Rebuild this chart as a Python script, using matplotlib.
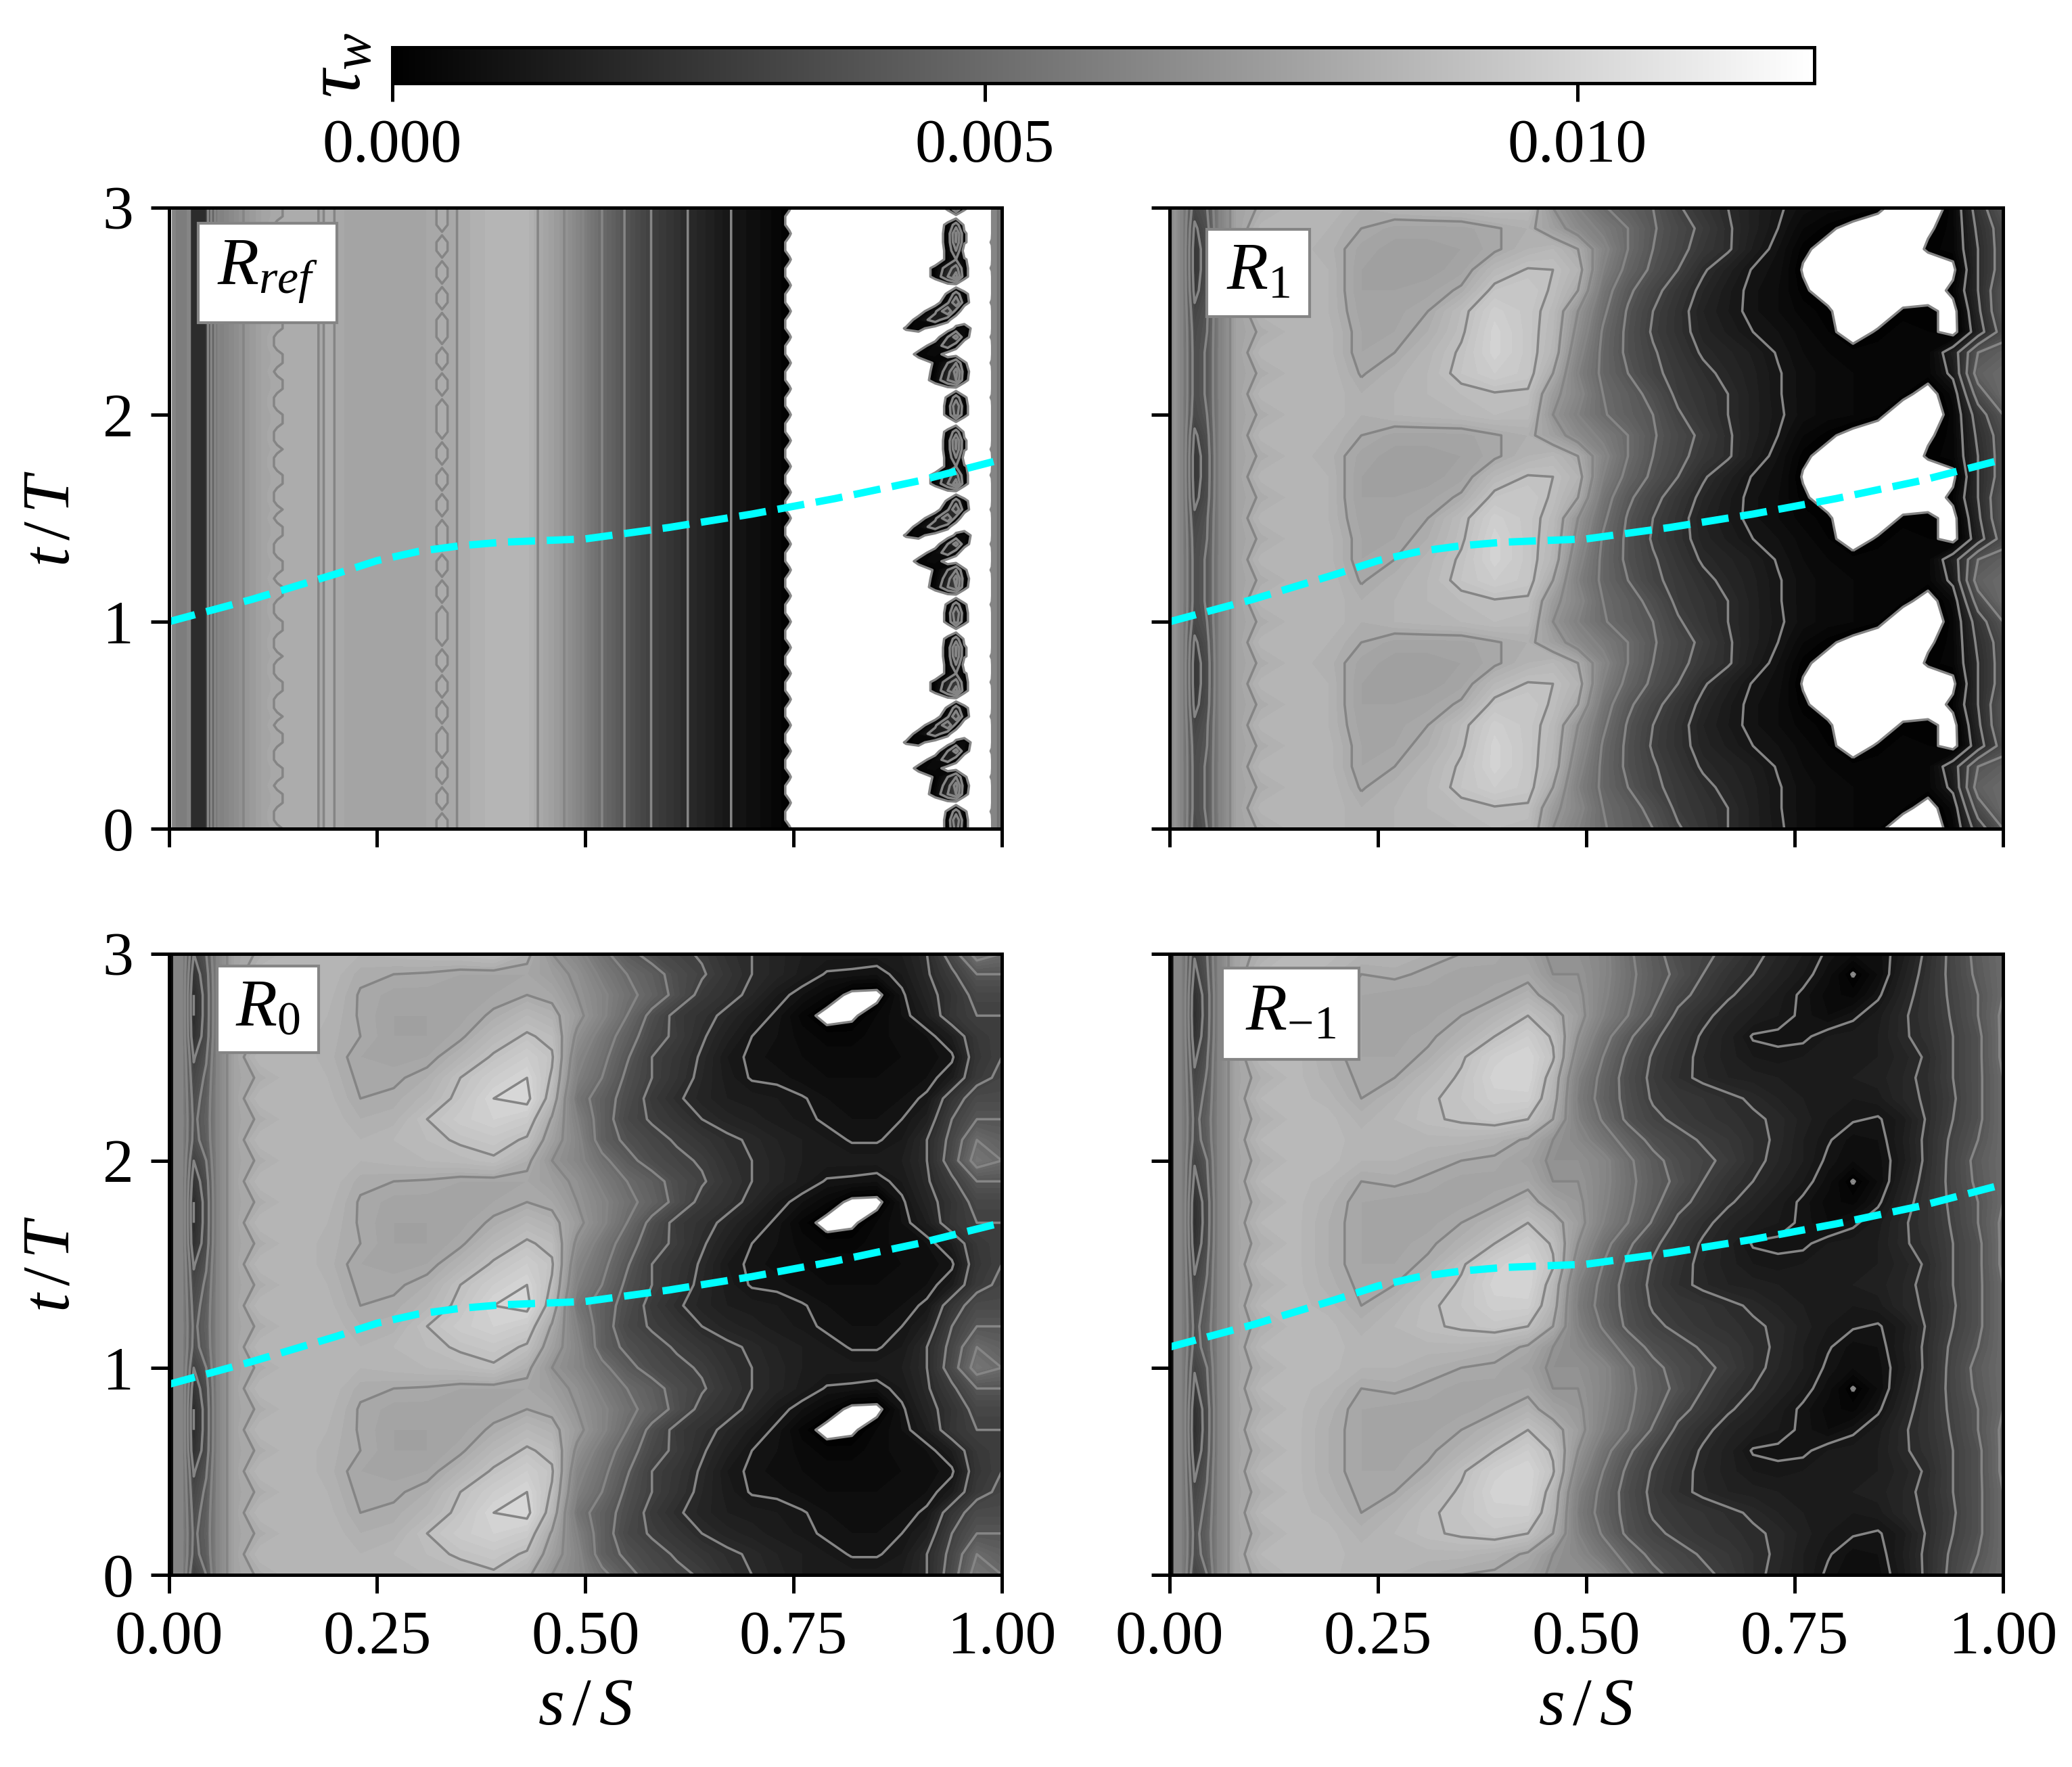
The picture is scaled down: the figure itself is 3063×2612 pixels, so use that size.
import numpy as np
import matplotlib
matplotlib.use("Agg")
import matplotlib.pyplot as plt
from matplotlib.cm import ScalarMappable
from matplotlib.colors import Normalize
from matplotlib.patches import Rectangle

plt.rcParams['font.family'] = ['Liberation Serif', 'DejaVu Serif']
plt.rcParams['mathtext.fontset'] = 'custom'
plt.rcParams['mathtext.rm'] = 'Liberation Serif'
plt.rcParams['mathtext.it'] = 'Liberation Serif:italic'
plt.rcParams['mathtext.bf'] = 'Liberation Serif:bold'
plt.rcParams['axes.linewidth'] = 1.2

# wall shear stress, in units of 1e-3, one forcing period
# negative = no fill (white), same as the separated zones in the reference
s_grid = [0, .006, .015, .03, .045, .06, .08, .11, .15, .19, .23, .27, .31, .35, .39, .43, .46,
          .49, .52, .55, .58, .61, .64, .67, .70, .73, .76, .79, .82, .85, .88, .91, .94, .97, 1.0]
t_grid = [0, .1, .2, .3, .4, .5, .6, .7, .8, .9]

tau_r1 = [
    [5.5, 7, 6, 3.4, 4, 6, 7.6, 8.1, 8.5, 8.6, 8.2, 8.4, 8.5, 8.6, 8.8, 8.7, 7.0,
     6, 5.1, 4.5, 4, 3.1, 2.5, 2, 1.5, 1.1, .7, .5, .4, .2, -.5, -.5, .3, 2.5, 4],
    [5.5, 7, 6, 3.6, 4.1, 6, 7.6, 8.5, 8.5, 8.6, 8.2, 8.4, 8.6, 8.8, 8.95, 8.9, 7.3,
     6.3, 5, 4.4, 3.7, 2.8, 2.4, 2, 1.5, 1.05, .7, .5, .4, .3, .2, -.3, .5, 3.5, 5],
    [5.5, 7, 6, 3.6, 4.1, 6, 7.6, 8.1, 8.5, 8.6, 7.95, 8.3, 8.6, 9.2, 9.6, 9.3, 8,
     6, 4.8, 4, 3.2, 2.7, 2.2, 1.8, 1.45, 1.05, .7, .5, .4, .3, .3, .3, 1.2, 4.5, 5],
    [5.5, 7, 6, 3.6, 4.1, 6, 7.6, 8.5, 8.5, 8.5, 7.8, 8, 8.5, 9.1, 9.9, 9.3, 8.5,
     6.3, 4.8, 3.8, 3.1, 2.5, 1.9, 1.65, 1.35, .95, .6, .4, .3, .3, .3, .3, 1.5, 4, 4.5],
    [5.5, 7, 6, 3.5, 4, 6, 7.6, 8.1, 8.5, 8.5, 7.8, 7.8, 8.2, 8.9, 9.9, 9.3, 8.6,
     6.7, 4.9, 3.8, 2.9, 2.3, 1.7, 1.35, 1, .8, .5, .2, -.4, .1, .3, .2, -.3, 1.5, 3.5],
    [5.5, 7, 6, 3.2, 3.9, 6, 7.6, 8.5, 8.5, 8.4, 7.7, 7.7, 8, 8.8, 9.7, 9.3, 8.7,
     7, 5.2, 3.9, 3, 2.3, 1.6, 1.2, .85, .6, .3, .1, -.5, -.5, .1, .2, -.3, 1.8, 4],
    [5.5, 7, 6, 2.7, 3.6, 6, 7.6, 8.1, 8.5, 8.4, 7.6, 7.6, 7.7, 8.1, 9.2, 9.4, 8.9,
     8, 5.5, 4.2, 3.3, 2.5, 1.8, 1.25, .85, .6, .1, -.3, -.5, -.5, -.5, -.5, .2, 2, 4],
    [5.5, 7, 6, 2.5, 3.5, 6, 7.6, 8.5, 8.5, 8.4, 7.6, 7.5, 7.5, 7.7, 8.6, 9.05, 9,
     8.4, 6, 4.7, 3.8, 3, 2.1, 1.5, .95, .7, -.05, -.5, -.5, -.5, -.5, -.5, -.2, 2, 3.5],
    [5.5, 7, 6, 2.5, 3.5, 6, 7.6, 8.1, 8.5, 8.3, 7.7, 7.5, 7.5, 7.6, 7.9, 8.4, 8.6,
     8, 6.3, 5, 4, 3.3, 2.6, 2.1, 1.35, .8, .1, -.2, -.5, -.5, -.5, .1, .3, 2, 3.5],
    [5.5, 7, 6, 2.8, 3.7, 6, 7.6, 8.5, 8.5, 8.4, 8, 7.7, 7.7, 7.7, 7.95, 8.2, 7.5,
     6.5, 5.8, 5, 4.1, 3.4, 2.8, 2.1, 1.5, 1, .4, .1, -.2, -.5, -.5, -.1, .3, 2.2, 3.5],
]

tau_r0 = [
    [.3, .6, 6.2, 3, 4, 6.3, 7.7, 8.1, 8.6, 8.6, 8.4, 8.5, 8.6, 8.7, 8.9, 8.2, 7.0,
     6.3, 5.3, 4.3, 3.6, 3.2, 2.9, 2.3, 2, 1.7, 1.4, 1.3, 1.3, 1.3, 1.4, 2, 3.5, 5.5, 5],
    [.3, .6, 6.2, 3.7, 4.4, 6.3, 7.7, 8.6, 8.6, 8.6, 8.4, 8.6, 8.8, 9.1, 9.3, 8.9, 7.5,
     6.3, 4.5, 3.8, 3.3, 2.9, 2.5, 2.15, 1.9, 1.6, 1.4, 1.2, .95, .95, 1.2, 2, 3.3, 5, 4.5],
    [.3, .6, 6.2, 3.8, 4.5, 6.3, 7.7, 8.1, 8.6, 8.6, 8.2, 8.3, 9, 9.5, 9.8, 9.5, 7.9,
     6, 4.5, 3.4, 2.9, 2.5, 2, 1.7, 1.5, 1.3, 1.15, .9, .8, .8, 1, 1.5, 3, 4, 4],
    [.3, .6, 6.2, 3.6, 4.4, 6.3, 7.7, 8.6, 8.6, 8.5, 8, 8.1, 8.5, 9.2, 10, 10.2, 8.6,
     5.5, 4.5, 3.6, 2.7, 2.1, 1.7, 1.4, 1.3, 1.2, 1.05, .8, .7, .7, .8, 1.1, 2.5, 3.5, 3.5],
    [.3, .6, 6.2, 3.3, 4.2, 6.3, 7.7, 8.1, 8.6, 8.4, 7.9, 7.9, 8.2, 9, 9.6, 10, 8.9,
     6, 5, 3.8, 3, 2.4, 1.8, 1.3, .95, .9, .7, .6, .6, .6, .7, .8, 1.3, 2.7, 3.2],
    [.3, .6, 6.2, 2.9, 3.9, 6.3, 7.7, 8.6, 8.6, 8.3, 7.8, 7.7, 7.8, 8.4, 9.1, 9.6, 9.1,
     6.3, 5.3, 4.1, 3, 2.5, 1.9, 1.2, .9, .7, .6, .5, .5, .5, .6, .7, .9, 2.5, 3],
    [.3, .6, 6.2, 2.2, 3.5, 6.3, 7.7, 8.1, 8.6, 8.3, 8, 7.6, 7.6, 7.9, 8.6, 9.1, 8.8,
     6.8, 5.6, 4.5, 3.4, 2.8, 2.1, 1.5, 1, .8, .5, .3, .3, .5, .7, .8, 1.4, 2.6, 3],
    [.3, .6, 6.2, 2, 3.4, 6.3, 7.7, 8.6, 8.6, 8.4, 7.95, 7.6, 7.6, 7.7, 8.1, 8.6, 8.3,
     7.3, 6.2, 5, 3.7, 2.7, 2.3, 1.8, 1.3, .9, .3, -.25, -.12, .4, .8, 1.4, 2.5, 3, 3],
    [.3, .6, 6.2, 2, 3.4, 6.3, 7.7, 8.1, 8.6, 8.5, 7.95, 7.7, 7.7, 7.7, 7.8, 8, 7.8,
     7, 6.2, 5.3, 4.6, 3.7, 2.7, 2.3, 1.8, 1.2, .8, .4, -.2, -.25, .9, 1.7, 2.4, 3.3, 3.3],
    [.3, .6, 6.2, 2.4, 3.6, 6.3, 7.7, 8.6, 8.6, 8.6, 8.1, 8, 7.95, 7.8, 7.8, 7.8, 7.4,
     6.8, 5.8, 5, 4.4, 3.6, 3.1, 2.5, 2, 1.7, 1.3, .95, .9, .8, 1.2, 1.9, 2.8, 4, 4],
]

tau_rm1 = [
    [.3, 1, 6, 3.1, 4, 6.2, 7.7, 8.2, 8.7, 8.7, 8.4, 8.4, 8.2, 8, 7.9, 7.5, 6.8,
     6.8, 6.3, 5.2, 4.3, 3.6, 3.2, 2.8, 2.2, 1.8, 1.4, .9, .6, .7, 1.3, 2.2, 3.3, 4.3, 5],
    [.3, 1, 6, 3.6, 4.4, 6.2, 7.7, 8.6, 8.7, 8.7, 8.5, 8.6, 8.5, 8.5, 8.3, 7.9, 7,
     6.4, 5.5, 4.6, 3.7, 3.3, 2.9, 2.6, 2.2, 1.9, 1.4, 1.05, .7, .8, 1.4, 2.2, 3.2, 4, 5],
    [.3, 1, 6, 3.7, 4.5, 6.2, 7.7, 8.2, 8.7, 8.7, 8.3, 8.6, 8.9, 9.1, 9.3, 9, 8,
     6, 4.9, 3.8, 3.2, 2.8, 2.5, 2.3, 2.1, 1.9, 1.5, 1.2, 1.05, .95, 1.3, 2.1, 3, 3.8, 5],
    [.3, 1, 6, 3.5, 4.3, 6.2, 7.7, 8.6, 8.7, 8.5, 8, 8.4, 8.9, 9.2, 9.7, 9.7, 8.4,
     5.8, 4.6, 3.7, 2.9, 2.6, 2.4, 2.15, 1.9, 1.6, 1.4, 1.3, 1.2, 1.3, 1.8, 2.1, 2.9, 3.8, 5],
    [.3, 1, 6, 3.2, 4.1, 6.2, 7.7, 8.2, 8.7, 8.3, 7.9, 8, 8.6, 9.1, 9.9, 10, 8.6,
     6, 4.7, 3.6, 2.8, 2.2, 1.85, 1.6, 1.5, 1.4, 1.3, 1.3, 1.4, 1.5, 1.8, 2.2, 3, 3.8, 5],
    [.3, 1, 6, 2.8, 3.9, 6.2, 7.7, 8.6, 8.7, 8.2, 7.8, 7.8, 8.1, 8.9, 9.7, 10, 9.1,
     6.5, 5, 3.8, 2.9, 2.3, 1.8, 1.5, 1.2, 1.1, 1.2, 1.3, 1.3, 1.4, 1.7, 2.1, 3, 3.8, 5.2],
    [.3, 1, 6, 2.3, 3.6, 6.2, 7.7, 8.2, 8.7, 8.2, 7.8, 7.7, 7.9, 8.3, 9, 9.6, 8.9,
     7, 5.4, 4.2, 3.2, 2.5, 1.9, 1.5, .95, .9, .9, 1.2, 1.3, 1.4, 1.9, 2.3, 3, 3.8, 5.2],
    [.3, 1, 6, 2.1, 3.5, 6.2, 7.7, 8.6, 8.7, 8.2, 7.8, 7.7, 7.7, 8, 8.4, 9, 8.4,
     7.4, 6, 5, 3.9, 2.8, 2.2, 1.7, 1.4, 1.2, .9, .6, .9, 1.3, 1.9, 2.4, 3.1, 4, 5.2],
    [.3, 1, 6, 2.2, 3.5, 6.2, 7.7, 8.2, 8.7, 8.3, 7.8, 7.7, 7.7, 7.7, 7.9, 8.3, 7.6,
     7.2, 6.2, 5.2, 4.3, 3.3, 2.7, 2.1, 1.7, 1.3, .9, .5, .3, .9, 1.7, 2.4, 3.2, 4, 5],
    [.3, 1, 6, 2.7, 3.8, 6.2, 7.7, 8.6, 8.7, 8.5, 8, 8.1, 7.9, 7.7, 7.7, 7.8, 7,
     7, 6.3, 5.3, 4.4, 3.8, 3, 2.4, 2, 1.6, 1.2, .7, -.05, .6, 1.5, 2.3, 3.3, 4.2, 5],
]

# R_ref barely changes with t: one profile, then the columns that do change
s_ref = [0, .005, .007, .022, .026, .044, .05, .06, .09, .115, .13, .15, .175, .182, .19, .196, .21,
         .25, .30, .318, .328, .338, .37, .40, .43, .443, .475, .52, .547, .579, .623, .675, .71,
         .735, .745, .755, .87, .885, .90, .92, .935, .945, .955, .97, .983, .988, .993, 1.0]
t_ref = [0, .042, .083, .125, .167, .208, .25, .292, .333, .375, .417, .458,
         .5, .542, .583, .625, .667, .708, .75, .792, .833, .875, .917, .958]
ref_profile = [-.5, -.5, 6, 6, 2.2, 2.2, 3.8, 6, 7, 7.7, 8, 8.2, 8.1, 7.95, 8.05, 8.05, 7.8,
               7.7, 7.7, 7.9, 8, 7.9, 8.3, 8.6, 8.5, 8, 7, 5, 4, 3, 2, 1, .6,
               .2, 0, -.5, -.5, -.5, -.5, -.5, -.5, -.5, -.5, -.5, -.5, -.3, 5, 6]
ref_wiggle = [7.9, 8.1, 8.1, 7.9, 7.9, 8.1, 7.9, 7.9, 8.1, 8.1, 7.9, 7.9,
              8.1, 7.9, 8.1, 8.1, 7.9, 7.9, 8.1, 8.1, 7.9, 8.1, 8.1, 7.9]
ref_ovals = [8.2, 8.2, 7.95, 8.2, 8.2, 7.95, 8.2, 8.2, 7.95, 8.2, 8.2, 8.2,
             7.95, 8.2, 8.2, 7.95, 8.2, 8.2, 7.95, 8.2, 8.2, 7.95, 8.2, 8.2]
ref_teeth = [.1, -.2, -.2, .1, -.2, -.2, .1, -.2, -.2, .1, -.2, -.2,
             .1, -.2, -.2, .1, -.2, -.2, .1, -.2, -.2, .1, -.2, -.2]
ref_bulge = [-.4, -.4, .2, -.4, -.4, -.4, .2, -.4, -.4, .2, -.4, -.4,
             -.4, .2, -.4, -.4, -.4, .2, -.4, -.4, .2, -.4, -.4, -.4]
ref_c885 = [-.5, -.5, -.5, -.5, -.5, -.5, -.5, -.5, -.5, -.5, .1, -.5,
            -.5, -.5, -.5, -.5, -.5, -.5, -.5, -.5, -.5, -.5, -.5, -.5]
ref_c900 = [-.5, -.5, -.5, -.5, -.5, -.5, -.5, .3, -.5, -.5, .3, .4,
            -.5, -.5, -.5, -.5, -.5, -.5, -.5, -.5, -.5, -.5, -.5, -.5]
ref_c920 = [-.5, -.5, -.5, -.5, .3, .2, .1, .5, .5, -.5, -.5, 1.5,
            .8, -.5, -.5, -.5, .2, .2, -.5, -.5, -.5, -.5, -.5, -.5]
ref_c935 = [.2, .2, .1, -.5, 2, 1.5, 1, -.5, 1.5, 1, -.5, .2,
            3, .8, .1, -.5, 2, 1.5, .2, .2, .3, .3, .2, -.5]
ref_c945 = [2.5, 3, 1.5, -.5, 3, 3.5, 2, -.5, .3, 2.5, .2, -.5,
            .5, 3, 1.5, -.5, 3.5, 2.5, 1, 2, 3, 3.2, 1.5, -.5]
ref_c955 = [.2, .2, .1, -.5, .2, .3, .1, -.5, -.5, .3, .5, -.5,
            -.5, .3, .2, -.5, .2, .2, .1, -.5, .1, .1, -.2, -.5]

# phase speed line on each panel
line_s = [0, .1, .2, .25, .3, .35, .4, .5, .6, .7, .8, .9, 1.0]
line_ref = [1.0, 1.108, 1.23, 1.295, 1.34, 1.367, 1.384, 1.40, 1.455, 1.52, 1.595, 1.68, 1.784]
line_r1 = [1.0, 1.108, 1.23, 1.295, 1.34, 1.367, 1.384, 1.40, 1.455, 1.52, 1.595, 1.68, 1.784]
line_r0 = [.92, 1.03, 1.15, 1.215, 1.26, 1.287, 1.304, 1.32, 1.375, 1.44, 1.515, 1.60, 1.70]
line_rm1 = [1.10, 1.208, 1.33, 1.395, 1.44, 1.467, 1.484, 1.50, 1.555, 1.62, 1.695, 1.78, 1.885]

s_ticks = [0, .25, .5, .75, 1.0]
t_ticks = [0, 1, 2, 3]
cbar_ticks = [0, .005, .01]

W, H = 3063, 2612
VMAX = .012


def px_axes(fig, x0, x1, y0, y1):
    # pixel box, y measured from the top of the picture
    return fig.add_axes([x0 / W, 1 - y1 / H, (x1 - x0) / W, (y1 - y0) / H])


def panel(ax, s, t, tau, ls, lt, label, box, show_x, show_y):
    t = np.array(t)
    tau = np.array(tau) * 1e-3
    # three identical periods, last row closes the top edge
    t3 = np.concatenate([t, t + 1, t + 2, [3.0]])
    tau3 = np.vstack([tau, tau, tau, tau[:1]])
    ax.contourf(s, t3, tau3, levels=np.linspace(0, VMAX, 61), cmap='gray', vmin=0, vmax=VMAX)
    ax.contour(s, t3, tau3, levels=np.linspace(0, VMAX, 13), colors='#858585', linewidths=.85)
    ax.plot(ls, lt, '--', color='cyan', lw=2.6)
    ax.set_xlim(0, 1)
    ax.set_ylim(0, 3)
    ax.set_xticks(s_ticks)
    ax.set_yticks(t_ticks)
    ax.tick_params(length=6.5, width=1.2, labelsize=22, pad=6,
                   labelbottom=show_x, labelleft=show_y)
    if show_x:
        ax.set_xticklabels(['%.2f' % v for v in s_ticks])
        ax.set_xlabel(r'$s\,/\,S$', fontsize=24, labelpad=4)
    if show_y:
        ax.set_ylabel(r'$t\,/\,T$', fontsize=24, labelpad=7)
    x0, y0, w, h = box
    ax.add_patch(Rectangle((x0, y0), w, h, transform=ax.transAxes, fc='white',
                           ec='#858585', lw=1, zorder=5))
    ax.text(x0 + w / 2, y0 + h / 2, label, transform=ax.transAxes, fontsize=24,
            ha='center', va='center', zorder=6)


tau_ref = np.tile(ref_profile, (len(t_ref), 1))
for val, col in [(.13, ref_wiggle), (.328, ref_ovals), (.745, ref_teeth), (.988, ref_bulge),
                 (.885, ref_c885), (.90, ref_c900), (.92, ref_c920), (.935, ref_c935),
                 (.945, ref_c945), (.955, ref_c955)]:
    tau_ref[:, s_ref.index(val)] = col

fig = plt.figure(figsize=(W / 300, H / 300), dpi=300)

ax1 = px_axes(fig, 249.5, 1481, 307, 1225)
ax2 = px_axes(fig, 1729, 2961, 307, 1225)
ax3 = px_axes(fig, 249.5, 1481, 1409.5, 2328)
ax4 = px_axes(fig, 1729, 2961, 1409.5, 2328)

panel(ax1, s_ref, t_ref, tau_ref, line_s, line_ref, r'$R_{ref}$', (.035, .815, .167, .16), False, True)
panel(ax2, s_grid, t_grid, tau_r1, line_s, line_r1, r'$R_1$', (.045, .825, .123, .14), False, False)
panel(ax3, s_grid, t_grid, tau_r0, line_s, line_r0, r'$R_0$', (.058, .84, .122, .14), True, True)
panel(ax4, s_grid, t_grid, tau_rm1, line_s, line_rm1, r'$R_{-1}$', (.063, .83, .164, .147), True, False)

cax = px_axes(fig, 580, 2682, 70, 123)
cb = fig.colorbar(ScalarMappable(Normalize(0, VMAX), 'gray'), cax=cax, orientation='horizontal')
cb.set_ticks(cbar_ticks)
cb.set_ticklabels(['%.3f' % v for v in cbar_ticks])
cb.ax.tick_params(length=6.5, width=1.2, labelsize=22, pad=6)
cb.outline.set_linewidth(1.2)
cax.text(-.036, .5, r'$\tau_w$', transform=cax.transAxes, fontsize=28, rotation=90,
         ha='center', va='center')

fig.savefig('out.png', dpi=300)
